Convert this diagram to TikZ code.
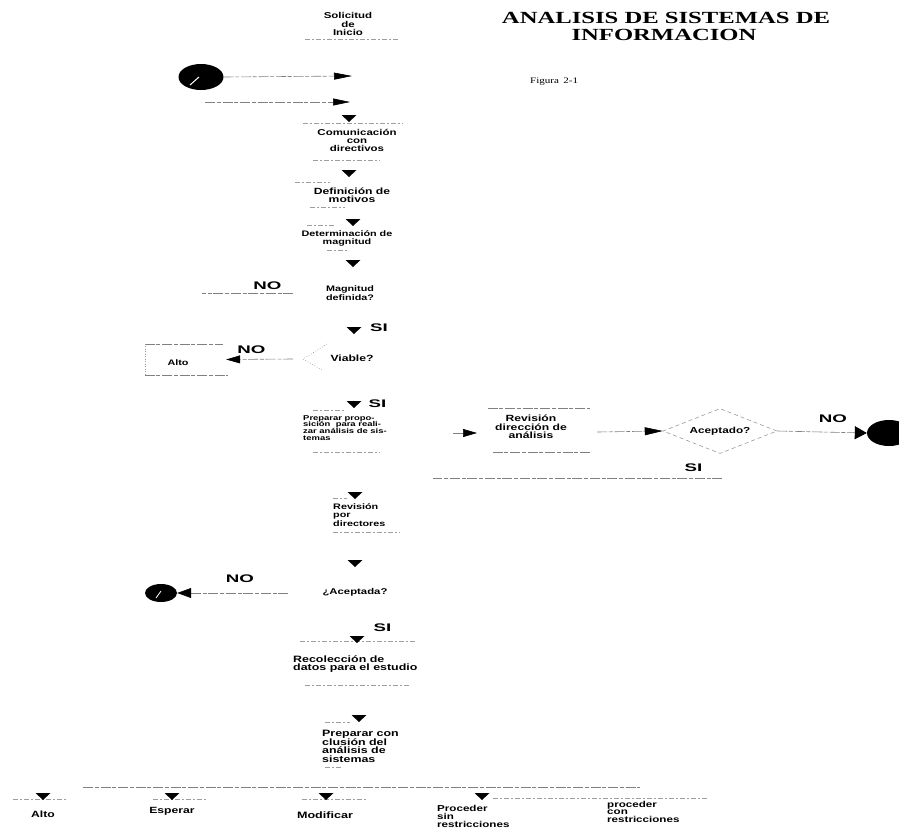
\documentclass[tikz,border=0pt]{standalone}
\usepackage{fontspec}
\setmainfont{Liberation Serif}
\newfontfamily\hv{Liberation Sans}[FakeStretch=1.35]
\newfontfamily\hvw{Liberation Sans}[FakeStretch=1.7]
\newfontfamily\tmt{Liberation Serif}[FakeStretch=1.45]
\newfontfamily\tmf{Liberation Serif}[FakeStretch=1.3]
\usetikzlibrary{arrows.meta,shapes.geometric}
\newcommand\myfs[2]{\fontsize{#1}{#2}\selectfont\lineskiplimit=-20pt\relax}
\begin{document}
\begin{tikzpicture}[x=1pt,y=-1pt,
  ln/.style={draw=black!50, line width=0.6pt, dash pattern=on 10pt off 1.5pt on 4pt off 2pt},
  lnf/.style={draw=black!38, line width=0.5pt, dash pattern=on 5pt off 2pt on 1.5pt off 2.5pt},
  tipR/.style n args={2}{-{Triangle[length=#1pt,width=#2pt,color=black]}},
  tipL/.style n args={2}{-{Triangle[length=#1pt,width=#2pt,color=black]}},
  txt/.style={inner sep=0pt, anchor=north, align=center},
  txl/.style={inner sep=0pt, anchor=north west, align=left},
  tA/.style n args={2}{font=\hv\bfseries\myfs{#1}{#2}},
  yn/.style={inner sep=0pt, font=\hvw\bfseries\myfs{11}{11}},
  dtri/.pic={\fill[black] (-7.5,0) -- (7.5,0) -- (0,7) -- cycle;},
  blob/.style={ellipse, fill=black, inner sep=0pt},
]
\useasboundingbox (0,0) rectangle (899,830);
\fill[white] (0,0) rectangle (899,830);

% ---------- title ----------
\node[anchor=base, inner sep=0pt, font=\tmt\bfseries\myfs{17}{17}] (title1) at (666,23) {ANALISIS DE SISTEMAS DE};
\node[anchor=base, inner sep=0pt, font=\tmt\bfseries\myfs{17}{17}] (title2) at (664,40) {INFORMACION};
\node[anchor=base west, inner sep=0pt, font=\tmf\myfs{8.5}{8.5}] (fig) at (530,83) {Figura\enspace 2-1};

% ---------- start ----------
\node[txt, tA={8.5}{8.5}] (sol) at (348,12.5) {Solicitud\\de\\Inicio};
\draw[lnf] (305,39) -- (398,39);

\node[blob, minimum width=45pt, minimum height=26pt] (b1) at (201,77) {};
\draw[white, line width=1pt] (190,85) -- (199,77);
\coordinate (a1) at (352,76);
\draw[ln, tipR={18}{7}] (b1.east) -- (a1);
\coordinate (l2s) at (205,102);
\coordinate (l2e) at (350,102);
\draw[ln, tipR={17}{7}] (l2s) -- (l2e);

% ---------- column ----------
\draw[lnf] (303,123) -- (403,123);
\pic at (349,115) {dtri};
\node[txt, tA={8.5}{8}] (com) at (357,129) {Comunicación\\con\\directivos};
\draw[lnf] (313,160) -- (380,160);
\pic at (349,170) {dtri};
\draw[lnf] (295,182) -- (330,182);
\node[txt, tA={9}{8}] (def) at (352,188) {Definición de\\motivos};
\draw[lnf] (310,207) -- (345,207);
\draw[lnf] (307,225) -- (335,225);
\pic at (353,219) {dtri};
\node[txt, tA={8}{8.5}] (det) at (347,230) {Determinación de\\magnitud};
\draw[lnf] (327,250) -- (347,250);
\pic at (353,260) {dtri};

\node[txt, tA={8}{9}] (mag) at (350,285) {Magnitud\\definida?};
\coordinate (n1a) at (293,293);
\coordinate (n1b) at (202,293);
\draw[ln] (n1a) -- (n1b);
\node[yn] (no1) at (267.5,285.5) {NO};

\pic at (354,327) {dtri};
\node[yn] (si1) at (379,327.5) {SI};

\node[txt, tA={9}{9}] (via) at (352,355) {Viable?};
\draw[black!45, line width=0.6pt, dotted] (327,344) -- (303,359) -- (322,370);
\node[inner sep=0pt, minimum width=83pt, minimum height=31pt] (altob) at (186.5,359.5) {};
\draw[ln] (altob.north west) -- ([xshift=-5pt]altob.north east);
\draw[ln] (altob.south west) -- (altob.south east);
\draw[black!40, line width=0.5pt, dotted] (altob.north west) -- (altob.south west);
\node[txt, tA={8}{8}] (alto1) at (178,359) {Alto};
\coordinate (v1) at (293,359);
\draw[ln, tipL={14}{8}] (v1) -- ([xshift=-2pt]altob.east);
\node[yn] (no2) at (251.5,349.5) {NO};

\pic at (354,401) {dtri};
\node[yn] (si2) at (377.5,404) {SI};
\draw[lnf] (313,410) -- (345,410);
\node[txl, tA={7}{6.7}] (prep) at (303,415) {Preparar propo-\\sición\ \ para reali-\\zar análisis de sis-\\temas};
\draw[lnf] (313,452) -- (380,452);

% ---------- right branch ----------
\coordinate (p1) at (453,433);
\coordinate (p2) at (477,433);
\draw[ln, tipR={14}{8}] (p1) -- (p2);
\node[inner sep=0pt, minimum width=102pt, minimum height=44pt] (revb) at (539,430) {};
\draw[ln] (revb.north west) -- (revb.north east);
\draw[ln] ([xshift=5pt]revb.south west) -- (revb.south east);
\node[txt, tA={9}{8.5}] (rev) at (531,415) {Revisión\\dirección de\\análisis};
\node[diamond, aspect=2.5, draw=black!45, line width=0.5pt, dash pattern=on 4pt off 3pt,
      minimum width=114pt, minimum height=45pt, inner sep=0pt, tA={8.7}{8.7}] (dia) at (720,431) {Aceptado?};
\coordinate (d0) at (597,432);
\draw[ln, tipR={18}{8}] (d0) -- (dia.west);
\node[blob, minimum width=44pt, minimum height=26pt] (b2) at (889,433) {};
\draw[ln, tipR={12}{13}] (dia.east) -- (b2.west);
\node[yn] (no3) at (833,418.5) {NO};
\node[yn] (si3) at (693.5,467.5) {SI};
\coordinate (s1) at (722,478);
\coordinate (s2) at (433,478);
\draw[ln] (s1) -- (s2);

% ---------- column continues ----------
\draw[lnf] (333,498) -- (347,498);
\pic at (355,492) {dtri};
\node[txl, tA={8}{8.5}] (revd) at (333,503) {Revisión\\por\\directores};
\draw[lnf] (333,532) -- (400,532);
\pic at (355,560) {dtri};

\node[txt, tA={8.4}{8.4}] (acep) at (355,588) {¿Aceptada?};
\node[blob, minimum width=32pt, minimum height=18pt] (b3) at (161,593) {};
\draw[white, line width=0.8pt] (156,598) -- (161,591);
\coordinate (n4) at (288,593);
\draw[ln, tipL={14}{10}] (n4) -- (b3.east);
\node[yn] (no4) at (240,578.5) {NO};
\node[yn] (si4) at (382.5,627.5) {SI};

\draw[lnf] (300,641) -- (415,641);
\pic at (357,636) {dtri};
\node[txl, tA={9.2}{8}] (rec) at (293,656) {Recolección de\\datos para el estudio};
\draw[lnf] (305,685) -- (410,685);

\draw[lnf] (325,722) -- (350,722);
\pic at (359,715) {dtri};
\node[txl, tA={9.2}{8.6}] (conc) at (322,730) {Preparar con\\clusión del\\análisis de\\sistemas};
\draw[lnf] (325,767) -- (343,767);

% ---------- outcomes ----------
\coordinate (o1) at (83,787);
\coordinate (o2) at (640,787);
\draw[ln] (o1) -- (o2);
\draw[lnf] (13,799) -- (67,799);
\draw[lnf] (153,799) -- (207,799);
\draw[lnf] (302,799) -- (367,799);
\draw[lnf] (493,798) -- (707,798);
\pic at (43,793) {dtri};
\pic at (172,793) {dtri};
\pic at (326,793) {dtri};
\pic at (482,793) {dtri};
\node[txt, tA={9}{9}] (r1) at (43,811) {Alto};
\node[txt, tA={9}{9}] (r2) at (172,807) {Esperar};
\node[txt, tA={9.3}{9}] (r3) at (325,812) {Modificar};
\node[txl, tA={8.6}{8}] (r4) at (437,805) {Proceder\\sin\\restricciones};
\node[txl, tA={8.6}{7.5}] (r5) at (607,801) {proceder\\con\\restricciones};
\end{tikzpicture}
\end{document}
